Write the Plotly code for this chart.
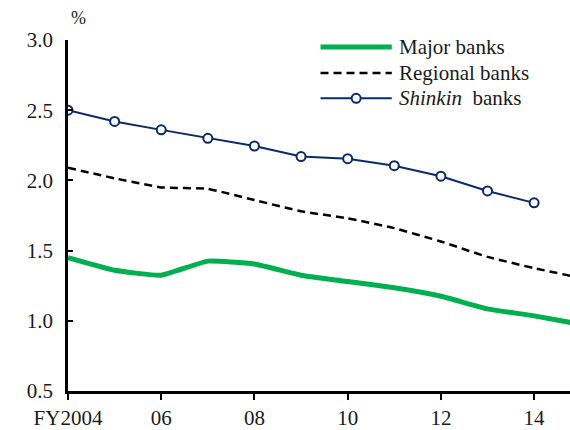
import plotly.graph_objects as go

years = list(range(2004, 2016))
major = [1.45, 1.36, 1.325, 1.425, 1.405, 1.325, 1.28, 1.235, 1.175, 1.085, 1.035, 0.975]
regional = [2.09, 2.015, 1.95, 1.94, 1.86, 1.78, 1.73, 1.66, 1.565, 1.455, 1.375, 1.305]
shinkin_years = list(range(2004, 2015))
shinkin = [2.50, 2.42, 2.36, 2.30, 2.245, 2.17, 2.155, 2.105, 2.03, 1.925, 1.84]

tick_vals = [2004, 2006, 2008, 2010, 2012, 2014]
tick_text = ["FY2004", "06", "08", "10", "12", "14"]
y_ticks = [0.5, 1.0, 1.5, 2.0, 2.5, 3.0]

GREEN = "#00B050"
NAVY = "#0B2A6B"
FONT = "Liberation Serif, Times New Roman, serif"
FS = 21

fig = go.Figure()
fig.add_trace(go.Scatter(x=years, y=major, mode="lines",
                         line=dict(color=GREEN, width=5, shape="spline", smoothing=0.4),
                         name="Major banks", showlegend=False))
fig.add_trace(go.Scatter(x=years, y=regional, mode="lines",
                         line=dict(color="black", width=2.5, dash="8px,5px", shape="spline", smoothing=0.3),
                         name="Regional banks", showlegend=False))
fig.add_trace(go.Scatter(x=shinkin_years, y=shinkin, mode="lines+markers",
                         line=dict(color=NAVY, width=2),
                         marker=dict(symbol="circle", size=9, color="white",
                                     line=dict(color=NAVY, width=2)),
                         name="Shinkin banks", showlegend=False))

fig.update_layout(
    width=570, height=430,
    margin=dict(l=68, r=0, t=40, b=39),
    paper_bgcolor="white", plot_bgcolor="white",
    font=dict(family=FONT, size=FS, color="#1a1a1a"),
    showlegend=False,
    xaxis=dict(range=[2004, 2014.77], tickvals=tick_vals, ticktext=tick_text,
               automargin=False,
               showgrid=False, zeroline=False, showline=True, linecolor="black", linewidth=2.5,
               ticks="outside", ticklen=6, tickwidth=2, tickcolor="black",
               ticklabelstandoff=0,
               tickfont=dict(family=FONT, size=FS, color="#1a1a1a")),
    yaxis=dict(range=[0.5, 3.0], tickvals=y_ticks, tickformat=".1f",
               automargin=False,
               showgrid=False, zeroline=False, showline=True, linecolor="black", linewidth=2.5,
               ticks="inside", ticklen=5, tickwidth=2, tickcolor="black",
               tickfont=dict(family=FONT, size=FS, color="#1a1a1a"),
               ticklabelstandoff=8),
)

# "%" unit label
fig.add_annotation(xref="paper", yref="paper", x=0.02, y=1.063, text="%", showarrow=False,
                   font=dict(family=FONT, size=18, color="#1a1a1a"), xanchor="center", yanchor="middle")

# manual legend
x0, x1, xt = 0.503, 0.645, 0.656
rows = [0.980, 0.906, 0.834]
fig.add_shape(type="line", xref="paper", yref="paper", x0=x0, x1=x1, y0=rows[0], y1=rows[0],
              line=dict(color=GREEN, width=5))
fig.add_shape(type="line", xref="paper", yref="paper", x0=x0, x1=x1, y0=rows[1], y1=rows[1],
              line=dict(color="black", width=2.5, dash="8px,5px"))
fig.add_shape(type="line", xref="paper", yref="paper", x0=x0, x1=x1, y0=rows[2], y1=rows[2],
              line=dict(color=NAVY, width=2))
cx = (x0 + x1) / 2
fig.add_shape(type="circle", xref="paper", yref="paper",
              x0=cx - 4.5 / 502, x1=cx + 4.5 / 502, y0=rows[2] - 4.5 / 351, y1=rows[2] + 4.5 / 351,
              line=dict(color=NAVY, width=2), fillcolor="white")
labels = ["Major banks", "Regional banks", "<i>Shinkin</i>  banks"]
for r, t in zip(rows, labels):
    fig.add_annotation(xref="paper", yref="paper", x=xt, y=r, text=t, showarrow=False,
                       xanchor="left", yanchor="middle",
                       font=dict(family=FONT, size=FS, color="#1a1a1a"))

fig.write_html("out.html", config={"displayModeBar": False},
               post_script="document.body.style.margin='0';document.body.style.overflow='hidden';")
